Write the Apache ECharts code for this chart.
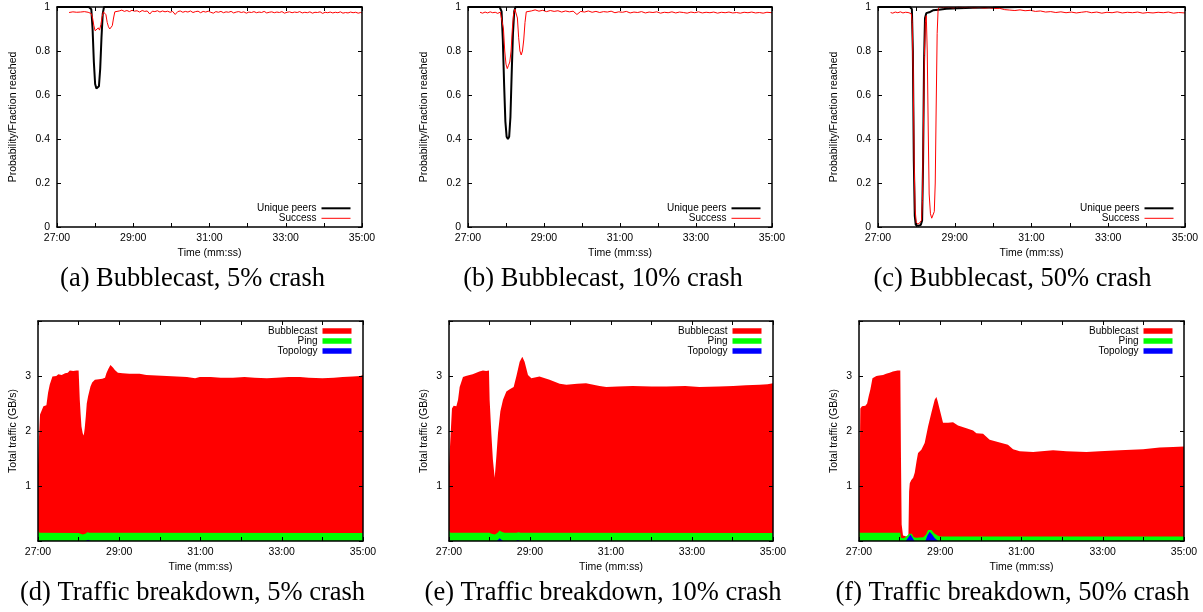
<!DOCTYPE html>
<html>
<head>
<meta charset="utf-8">
<style>
  html, body { margin: 0; padding: 0; background: #fff; }
  #chart { width: 1203px; height: 612px; }
</style>
</head>
<body>
<div id="chart"></div>
<script src="https://cdn.jsdelivr.net/npm/echarts@6/dist/echarts.min.js"></script>
<script>
// x values are seconds after 27:00

// (a) Bubblecast, 5% crash
const peersA = [[0, 1], [50, 1], [54, 0.99], [56, 0.9], [58, 0.75], [60, 0.65], [62, 0.63], [64, 0.628], [66, 0.64],
  [68, 0.72], [70, 0.86], [72, 0.97], [74, 1], [480, 1]]
const successA = [[19, 0.975], [22, 0.972], [25, 0.978], [28, 0.974], [31, 0.976], [34, 0.971], [37, 0.977], [40, 0.975],
  [43, 0.979], [46, 0.973], [49, 0.976], [52, 0.974], [54, 0.97], [56, 0.95], [58, 0.915], [60, 0.892], [62, 0.9],
  [63, 0.888], [65, 0.905], [67, 0.895], [69, 0.92], [71, 0.955], [73, 0.978], [75, 0.982], [77, 0.965], [79, 0.93],
  [81, 0.91], [83, 0.9], [85, 0.905], [87, 0.915], [89, 0.95], [91, 0.978], [94, 0.985], [98, 0.982], [102, 0.986],
  [106, 0.98], [110, 0.984], [114, 0.979], [118, 0.985], [122, 0.981], [126, 0.983], [130, 0.977], [134, 0.984],
  [138, 0.98], [142, 0.982], [146, 0.968], [150, 0.981], [154, 0.979], [158, 0.983], [162, 0.977], [166, 0.982],
  [170, 0.978], [174, 0.981], [178, 0.976], [182, 0.98], [186, 0.966], [190, 0.979], [194, 0.982], [198, 0.976],
  [202, 0.98], [206, 0.977], [210, 0.982], [214, 0.975], [218, 0.979], [222, 0.981], [226, 0.974], [230, 0.98],
  [234, 0.977], [238, 0.981], [242, 0.976], [246, 0.972], [250, 0.979], [254, 0.976], [258, 0.98], [262, 0.974],
  [266, 0.978], [270, 0.976], [274, 0.98], [278, 0.973], [282, 0.977], [286, 0.979], [290, 0.975], [294, 0.978],
  [298, 0.972], [302, 0.977], [306, 0.975], [310, 0.979], [314, 0.974], [318, 0.977], [322, 0.975], [326, 0.98],
  [330, 0.973], [334, 0.976], [338, 0.978], [342, 0.974], [346, 0.977], [350, 0.975], [354, 0.979], [358, 0.972],
  [362, 0.976], [366, 0.978], [370, 0.974], [374, 0.977], [378, 0.975], [382, 0.979], [386, 0.973], [390, 0.976],
  [394, 0.974], [398, 0.978], [402, 0.972], [406, 0.976], [410, 0.975], [414, 0.978], [418, 0.971], [422, 0.976],
  [426, 0.974], [430, 0.977], [434, 0.973], [438, 0.976], [442, 0.974], [446, 0.978], [450, 0.972], [454, 0.975],
  [458, 0.973], [462, 0.977], [466, 0.974], [470, 0.976], [474, 0.972], [478, 0.975], [480, 0.973]]

// (b) Bubblecast, 10% crash
const peersB = [[0, 1], [50, 1], [53, 0.98], [55, 0.85], [57, 0.65], [59, 0.48], [61, 0.41], [63, 0.4], [65, 0.41],
  [67, 0.5], [69, 0.7], [71, 0.88], [73, 0.98], [75, 1], [480, 1]]
const successB = [[19, 0.976], [23, 0.972], [27, 0.977], [31, 0.973], [35, 0.978], [39, 0.974], [43, 0.976], [47, 0.971],
  [51, 0.977], [54, 0.97], [56, 0.9], [58, 0.8], [60, 0.74], [62, 0.72], [64, 0.735], [66, 0.75], [68, 0.8], [70, 0.9],
  [72, 0.97], [74, 0.99], [76, 0.985], [78, 0.95], [80, 0.86], [82, 0.8], [84, 0.782], [86, 0.8], [88, 0.85], [90, 0.93],
  [92, 0.978], [95, 0.986], [100, 0.982], [106, 0.987], [112, 0.981], [118, 0.985], [124, 0.979], [130, 0.984],
  [136, 0.98], [142, 0.983], [148, 0.977], [154, 0.982], [160, 0.978], [166, 0.981], [172, 0.966], [178, 0.98],
  [184, 0.977], [190, 0.982], [196, 0.976], [202, 0.98], [208, 0.975], [214, 0.979], [220, 0.977], [226, 0.981],
  [232, 0.974], [238, 0.978], [244, 0.976], [250, 0.98], [256, 0.973], [262, 0.977], [268, 0.975], [274, 0.979],
  [280, 0.973], [286, 0.977], [292, 0.975], [298, 0.978], [304, 0.972], [310, 0.976], [316, 0.974], [322, 0.978],
  [328, 0.973], [334, 0.977], [340, 0.975], [346, 0.972], [352, 0.977], [358, 0.974], [364, 0.978], [370, 0.973],
  [376, 0.976], [382, 0.974], [388, 0.977], [394, 0.972], [400, 0.976], [406, 0.974], [412, 0.977], [418, 0.973],
  [424, 0.975], [430, 0.972], [436, 0.976], [442, 0.974], [448, 0.977], [454, 0.973], [460, 0.975], [466, 0.972],
  [472, 0.976], [480, 0.974]]

// (c) Bubblecast, 50% crash
const peersC = [[0, 1], [50, 1], [53, 0.99], [54.5, 0.8], [56, 0.3], [57.5, 0.05], [59, 0.01], [63, 0.005], [67, 0.01],
  [69, 0.03], [70.5, 0.3], [72, 0.75], [73.5, 0.95], [75.5, 0.972], [80, 0.976], [86, 0.985], [95, 0.988],
  [107, 0.992], [125, 0.994], [148, 0.997], [180, 0.998], [220, 1], [480, 1]]
const successC = [[19.7, 0.975], [23, 0.972], [27, 0.977], [31, 0.974], [35, 0.978], [39, 0.973], [43, 0.976],
  [47, 0.975], [50, 0.972], [52, 0.97], [53.5, 0.93], [55, 0.7], [56.5, 0.3], [58, 0.08], [60, 0.015], [62, 0.01],
  [64, 0.015], [66, 0.012], [68, 0.03], [69.5, 0.12], [71, 0.45], [72.5, 0.78], [74, 0.93], [75.5, 0.96], [77, 0.8],
  [78.5, 0.45], [80, 0.15], [82, 0.06], [84, 0.04], [86, 0.045], [88, 0.07], [89.5, 0.2], [91, 0.55], [92.5, 0.88],
  [94, 0.99], [96, 1], [102, 0.997], [110, 0.999], [118, 0.996], [126, 1], [134, 0.997], [142, 0.999], [150, 0.996],
  [158, 0.998], [166, 0.995], [174, 0.997], [182, 0.993], [190, 0.994], [198, 0.988], [206, 0.986], [214, 0.984],
  [222, 0.987], [230, 0.983], [238, 0.985], [246, 0.98], [254, 0.982], [262, 0.977], [270, 0.979], [278, 0.975],
  [286, 0.978], [294, 0.974], [302, 0.977], [310, 0.973], [318, 0.976], [326, 0.979], [334, 0.974], [342, 0.977],
  [350, 0.972], [358, 0.976], [366, 0.974], [374, 0.978], [382, 0.973], [390, 0.976], [398, 0.974], [406, 0.977],
  [414, 0.972], [422, 0.975], [430, 0.973], [438, 0.976], [446, 0.974], [454, 0.977], [462, 0.972], [470, 0.975],
  [480, 0.973]]

// traffic panels: top edge of each filled layer (GB/s)
// (d) Traffic breakdown, 5% crash
const bubbleD = [[0, 1.35], [1.5, 1.9], [3, 2.3], [5, 2.36], [8, 2.45], [10, 2.44], [12.4, 2.47], [14.8, 2.69],
  [17.3, 2.84], [21.3, 2.99], [24, 3.02], [27, 3.0], [30, 3.03], [35, 3.02], [40, 3.05], [44, 3.06], [47, 3.1],
  [52, 3.09], [57, 3.1], [60, 3.1], [61.7, 2.57], [63, 2.3], [64.2, 2.08], [66, 1.96], [67.6, 1.92], [69, 2.05],
  [70.6, 2.27], [72, 2.5], [74, 2.63], [77.5, 2.81], [80, 2.88], [84, 2.93], [90, 2.94], [95, 2.95], [99, 2.97],
  [101, 3.05], [104, 3.13], [107, 3.2], [108.6, 3.21], [111, 3.15], [113.5, 3.11], [118, 3.06], [125, 3.05],
  [135, 3.04], [150, 3.04], [160, 3.02], [175, 3.01], [190, 3.0], [205, 2.99], [220, 2.98], [232, 2.96], [239, 2.98],
  [255, 2.98], [270, 2.97], [288, 2.97], [305, 2.98], [320, 2.97], [338, 2.96], [352, 2.97], [370, 2.98], [387, 2.98],
  [400, 2.97], [420, 2.96], [437, 2.97], [450, 2.98], [465, 2.99], [476, 3.0], [480, 3.02]]
const pingD = [[0, 0.2], [2, 0.15], [60, 0.145], [62, 0.13], [66, 0.12], [70, 0.13], [73, 0.16], [76, 0.15], [480, 0.145]]
const topoD = [[70, 0], [72, 0.02], [74, 0.025], [76, 0.02], [78, 0]]

// (e) Traffic breakdown, 10% crash
const bubbleE = [[0, 1.35], [2, 1.84], [4.4, 2.41], [6.9, 2.46], [10.9, 2.45], [13.4, 2.57], [15.8, 2.8], [20.7, 2.98],
  [25, 3.0], [30.6, 3.02], [35, 3.03], [40.5, 3.06], [45, 3.08], [50.3, 3.1], [55, 3.09], [59.2, 3.1], [60.2, 2.57],
  [62.7, 1.96], [65, 1.48], [67.7, 1.15], [70.2, 1.54], [72.6, 1.96], [76.1, 2.36], [80, 2.57], [85, 2.72], [90, 2.76],
  [95.8, 2.8], [99.7, 2.99], [104.7, 3.26], [108.6, 3.35], [112, 3.26], [117, 3.02], [122, 2.96], [134, 2.99],
  [149, 2.93], [164, 2.86], [174, 2.84], [190, 2.86], [203, 2.87], [223, 2.82], [233, 2.8], [250, 2.81], [272, 2.82],
  [300, 2.81], [322, 2.81], [350, 2.82], [371, 2.8], [400, 2.81], [421, 2.82], [440, 2.83], [460, 2.84], [472, 2.85],
  [480, 2.87]]
const pingE = [[0, 0.2], [2, 0.15], [60, 0.15], [63, 0.13], [68, 0.12], [72, 0.15], [75, 0.19], [78, 0.17], [82, 0.15],
  [100, 0.15], [103, 0.16], [106, 0.15], [480, 0.145]]
const topoE = [[71, 0], [73, 0.03], [75, 0.05], [77, 0.04], [80, 0], [90, '-'], [99, 0], [102, 0.02], [105, 0.02],
  [107, 0]]

// (f) Traffic breakdown, 50% crash
const bubbleF = [[0, 0.5], [1, 1.35], [2, 2.41], [4.4, 2.45], [9.4, 2.46], [12, 2.5], [14.3, 2.63], [16.7, 2.75],
  [19.9, 2.96], [25.7, 3.0], [30, 3.01], [35.5, 3.02], [40, 3.04], [45.3, 3.06], [50, 3.08], [52.7, 3.1], [57, 3.1],
  [61, 3.1], [62, 1.5], [63, 0.3], [65, 0.1], [70, 0.08], [73, 0.1], [74, 0.9], [75, 1.05], [77.3, 1.11], [80, 1.15],
  [82.3, 1.24], [85, 1.45], [87.2, 1.6], [92.1, 1.66], [97, 1.78], [102, 2.08], [106.9, 2.33], [111.8, 2.57],
  [114.3, 2.62], [116, 2.55], [119.2, 2.39], [124.1, 2.15], [131.5, 2.15], [138.9, 2.16], [146.2, 2.1], [158.6, 2.05],
  [168.5, 2.01], [173.4, 1.96], [183.2, 1.95], [193, 1.84], [207.8, 1.79], [220, 1.75], [227.5, 1.67], [237.4, 1.63],
  [257, 1.62], [286.6, 1.65], [306.3, 1.63], [335.9, 1.62], [355.5, 1.63], [385, 1.65], [419.5, 1.67], [444, 1.7],
  [463.8, 1.71], [480, 1.72]]
const pingF = [[0, 0.2], [1, 0.15], [61, 0.15], [62, 0.06], [66, 0.05], [70, 0.08], [74, 0.13], [76, 0.16], [78, 0.13],
  [81, 0.07], [85, 0.06], [95, 0.07], [99, 0.12], [102, 0.2], [104.4, 0.22], [107, 0.2], [111, 0.14], [116, 0.1],
  [120, 0.08], [480, 0.08]]
const topoF = [[0, 0.05], [1.5, 0], [30, '-'], [69, 0], [72, 0.05], [76, 0.12], [79, 0.06], [82, 0], [90, '-'],
  [98, 0], [101, 0.1], [104.4, 0.17], [108, 0.12], [112, 0.05], [117, 0]]

const captions = [
  '(a) Bubblecast, 5% crash', '(b) Bubblecast, 10% crash', '(c) Bubblecast, 50% crash',
  '(d) Traffic breakdown, 5% crash', '(e) Traffic breakdown, 10% crash', '(f) Traffic breakdown, 50% crash',
]

const sans = 'Liberation Sans'
const boxes = [
  { left: 57, top: 7, width: 305, height: 220 },
  { left: 468, top: 7, width: 304, height: 220 },
  { left: 878, top: 7, width: 307, height: 220 },
  { left: 38, top: 321, width: 325, height: 220 },
  { left: 449, top: 321, width: 324, height: 220 },
  { left: 859, top: 321, width: 325, height: 220 },
]
const captionX = [192.5, 603, 1012.5]

const chart = echarts.init(document.getElementById('chart'))

const axisLine = { show: true, onZero: false, lineStyle: { color: '#000', width: 1.5 } }
const axisTick = { show: true, inside: true, length: 4, lineStyle: { color: '#000', width: 1 } }
const labelStyle = { color: '#000', fontFamily: sans, fontSize: 10.5 }
const legendText = { color: '#000', fontFamily: sans, fontSize: 10, lineHeight: 10 }

const grids = []
const xAxes = []
const yAxes = []
const legends = []
const series = []
const graphics = []

boxes.forEach((b, i) => {
  const traffic = i >= 3
  grids.push(Object.assign({ show: false, outerBoundsMode: 'none' }, b))
  const xBase = {
    type: 'value', gridIndex: i, min: 0, max: 480, interval: 60, z: 5,
    axisLine, axisTick, splitLine: { show: false },
  }
  xAxes.push(Object.assign({}, xBase, {
    position: 'bottom',
    name: 'Time (mm:ss)',
    nameLocation: 'middle',
    nameGap: 21,
    nameTextStyle: labelStyle,
    axisLabel: Object.assign({}, labelStyle, {
      margin: 6,
      formatter: (v) => (v % 120 === 0 ? (27 + v / 60) + ':00' : ''),
    }),
  }))
  xAxes.push(Object.assign({}, xBase, { position: 'top', axisLabel: { show: false } }))

  const yBase = {
    type: 'value', gridIndex: i, min: 0, max: traffic ? 4 : 1, interval: traffic ? 1 : 0.2, z: 5,
    axisLine, axisTick, splitLine: { show: false },
  }
  yAxes.push(Object.assign({}, yBase, {
    position: 'left',
    name: traffic ? 'Total traffic (GB/s)' : 'Probability/Fraction reached',
    nameLocation: 'middle',
    nameGap: traffic ? 19.5 : 38.5,
    nameTextStyle: labelStyle,
    axisLabel: Object.assign({}, labelStyle, {
      margin: 7,
      formatter: traffic ? (v) => (v > 0 && v < 4 ? String(v) : '') : (v) => String(v),
    }),
  }))
  yAxes.push(Object.assign({}, yBase, { position: 'right', axisLabel: { show: false } }))

  const legendRight = 1203 - (b.left + b.width - 11.5)
  const common = {
    orient: 'vertical', align: 'right', right: legendRight, padding: 0, itemGap: 0, itemWidth: 29,
    icon: 'rect', selectedMode: false, textStyle: legendText,
  }
  if (traffic) {
    legends.push(Object.assign({}, common, {
      top: 326, itemHeight: 5.5, data: ['Bubblecast', 'Ping', 'Topology'],
    }))
  } else {
    legends.push(Object.assign({}, common, { top: 203.3, itemHeight: 2, data: ['Unique peers'] }))
    legends.push(Object.assign({}, common, { top: 213.3, itemHeight: 1, data: ['Success'] }))
  }

  graphics.push({
    type: 'text',
    x: captionX[i % 3],
    y: traffic ? 593 : 279,
    style: {
      text: captions[i],
      font: '26.5px "Liberation Serif"',
      fill: '#000',
      textAlign: 'center',
      textVerticalAlign: 'middle',
      align: 'center',
      verticalAlign: 'middle',
    },
  })
})

function lineSeries(name, data, idx, color, width) {
  return {
    name, type: 'line', data, xAxisIndex: idx * 2, yAxisIndex: idx * 2,
    symbol: 'none', color, itemStyle: { color }, lineStyle: { color, width },
  }
}

function areaSeries(name, data, idx, color) {
  return {
    name, type: 'line', data, xAxisIndex: idx * 2, yAxisIndex: idx * 2,
    symbol: 'none', color, lineStyle: { width: 0 },
    itemStyle: { color },
    areaStyle: { color, opacity: 1 },
  }
}

const peers = [peersA, peersB, peersC]
const success = [successA, successB, successC]
peers.forEach((d, i) => {
  series.push(lineSeries('Unique peers', d, i, '#000000', 2))
  series.push(lineSeries('Success', success[i], i, '#ff0000', 1))
})

const bubble = [bubbleD, bubbleE, bubbleF]
const ping = [pingD, pingE, pingF]
const topo = [topoD, topoE, topoF]
bubble.forEach((d, i) => {
  series.push(areaSeries('Bubblecast', d, i + 3, '#ff0000'))
  series.push(areaSeries('Ping', ping[i], i + 3, '#00ff00'))
  series.push(areaSeries('Topology', topo[i], i + 3, '#0000ff'))
})

chart.setOption({
  animation: false,
  backgroundColor: '#fff',
  grid: grids,
  xAxis: xAxes,
  yAxis: yAxes,
  legend: legends,
  series,
  graphic: graphics,
})
</script>
</body>
</html>
